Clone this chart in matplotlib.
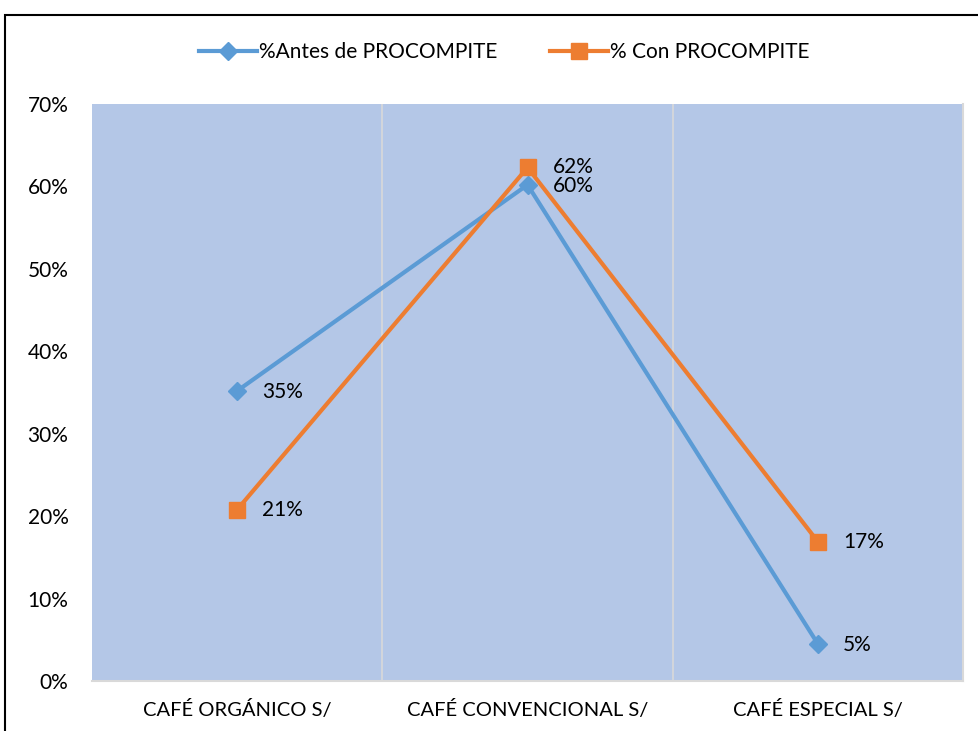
import matplotlib.pyplot as plt
from matplotlib.patches import Rectangle

categorias = ['CAFÉ ORGÁNICO S/', 'CAFÉ CONVENCIONAL S/', 'CAFÉ ESPECIAL S/']
antes = [0.352, 0.602, 0.045]
con = [0.208, 0.623, 0.169]
etiquetas_antes = ['35%', '60%', '5%']
etiquetas_con = ['21%', '62%', '17%']
yticks = [0, 0.1, 0.2, 0.3, 0.4, 0.5, 0.6, 0.7]

plt.rcParams['font.family'] = ['Lato', 'DejaVu Sans']

fig = plt.figure(figsize=(9.79, 7.31), dpi=100)
ax = fig.add_axes([0.094, 0.0684, 0.8897, 0.7893])
ax.set_facecolor('#B4C7E7')

x = list(range(len(categorias)))
ax.plot(x, antes, color='#5B9BD5', linewidth=3, marker='D', markersize=9,
        label='%Antes de PROCOMPITE', zorder=3)
ax.plot(x, con, color='#ED7D31', linewidth=3, marker='s', markersize=11,
        label='% Con PROCOMPITE', zorder=3)

for i in x:
    ax.annotate(etiquetas_antes[i], (x[i], antes[i]), xytext=(18, -1),
                textcoords='offset points', va='center', ha='left', fontsize=15)
    ax.annotate(etiquetas_con[i], (x[i], con[i]), xytext=(18, 0),
                textcoords='offset points', va='center', ha='left', fontsize=15)

ax.set_xlim(-0.5, 2.5)
ax.set_ylim(0, 0.7)
ax.set_yticks(yticks)
ax.set_yticklabels([f'{int(round(v * 100))}%' for v in yticks], fontsize=15)
ax.set_xticks(x)
ax.set_xticklabels(categorias, fontsize=14.5)
ax.tick_params(length=0)
ax.tick_params(axis='x', pad=14)
ax.tick_params(axis='y', pad=17)

# separadores verticales entre categorias
for b in [0.5, 1.5]:
    ax.axvline(b, color='#D9D9D9', linewidth=1.2, zorder=1)

for s in ['top', 'left']:
    ax.spines[s].set_visible(False)
for s in ['right', 'bottom']:
    ax.spines[s].set_color('#D9D9D9')
    ax.spines[s].set_linewidth(1.5)

fig.legend(loc='center', bbox_to_anchor=(0.515, 0.929), ncol=2, frameon=False,
           fontsize=15, handlelength=2.8, columnspacing=2.5, handletextpad=0.1)

# marco del grafico
fig.patches.append(Rectangle((5 / 979, -0.1), 1.2, 1 - 15 / 731 + 0.1,
                             transform=fig.transFigure, fill=False,
                             edgecolor='black', linewidth=1.5))

plt.savefig('out.png', dpi=100)
